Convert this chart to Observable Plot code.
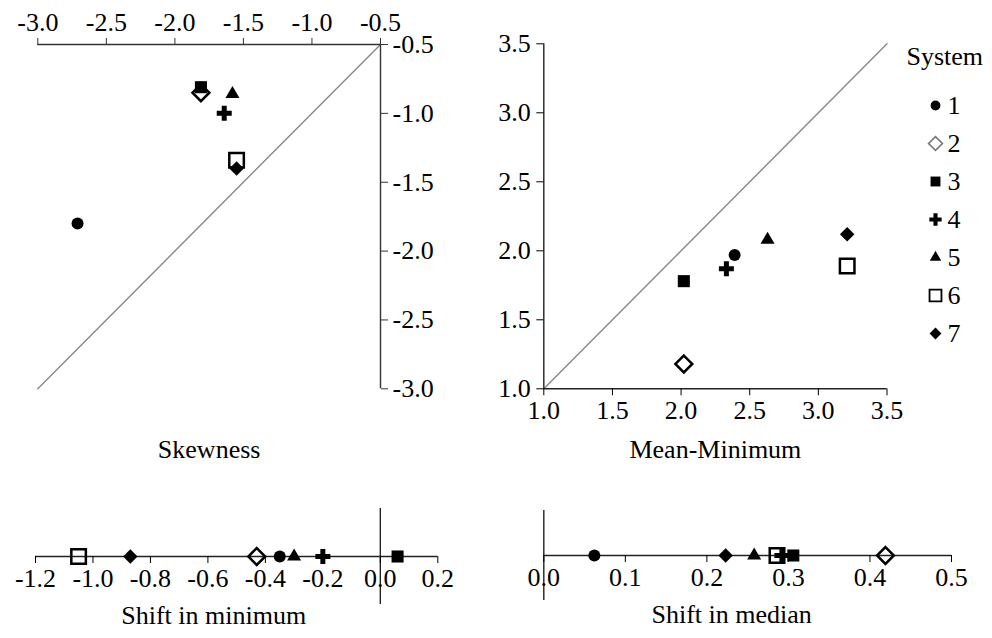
<!DOCTYPE html>
<html>
<head>
<meta charset="utf-8">
<script src="https://cdn.jsdelivr.net/npm/d3@7"></script>
<script src="https://cdn.jsdelivr.net/npm/@observablehq/plot@0.6"></script>
<style>
  html, body { margin: 0; padding: 0; background: #fff; }
  #wrap { position: relative; width: 992px; height: 638px; }
  #wrap svg { position: absolute; overflow: visible; }
  #wrap svg, #wrap svg text { font-family: "Liberation Serif" !important; }
</style>
</head>
<body>
<div id="wrap"></div>
<script>
// ---- data ----
const systems = ["1", "2", "3", "4", "5", "6", "7"];
// Skewness panel (x vs y)
const skewX = [-2.71, -1.81, -1.81, -1.64, -1.58, -1.55, -1.55];
const skewY = [-1.80, -0.85, -0.81, -1.00, -0.86, -1.34, -1.40];
const skewTicks = [-3.0, -2.5, -2.0, -1.5, -1.0, -0.5];
// Mean-Minimum panel
const mmX = [2.39, 2.02, 2.02, 2.33, 2.63, 3.21, 3.21];
const mmY = [1.97, 1.18, 1.78, 1.87, 2.08, 1.89, 2.12];
const mmTicks = [1.0, 1.5, 2.0, 2.5, 3.0, 3.5];
// Shift in minimum
const shiftMin = [-0.35, -0.43, 0.06, -0.20, -0.30, -1.05, -0.87];
const minTicks = [-1.2, -1.0, -0.8, -0.6, -0.4, -0.2, 0.0, 0.2];
// Shift in median
const shiftMed = [0.062, 0.419, 0.306, 0.292, 0.258, 0.286, 0.223];
const medTicks = [0.0, 0.1, 0.2, 0.3, 0.4, 0.5];

// ---- styles ----
const sty = {
  "1": {symbol: "circle",   r: 6.0, fill: "black", stroke: "none"},
  "2": {symbol: "diamond2", r: 7.6, fill: "none",  stroke: "black", strokeWidth: 2.5},
  "3": {symbol: "square",   r: 6.8, fill: "black", stroke: "none"},
  "4": {symbol: "cross",    r: 6.3, fill: "black", stroke: "none"},
  "5": {symbol: "triangle", r: 5.2, fill: "black", stroke: "none"},
  "6": {symbol: "square",   r: 8.2, fill: "none",  stroke: "black", strokeWidth: 2.5},
  "7": {symbol: "diamond2", r: 6.5, fill: "black", stroke: "none"}
};
const legendScale = 0.82;
const fmt = d => d.toFixed(1);
const FONT = {fontFamily: "Liberation Serif", fontSize: "26px"};

function dotsFor(rows) {
  return systems.map(s => {
    const st = sty[s];
    return Plot.dot(rows.filter(d => d.system === s), {
      x: "x", y: "y", symbol: st.symbol, r: st.r,
      fill: st.fill, stroke: st.stroke, strokeWidth: st.strokeWidth || 1
    });
  });
}

const wrap = document.getElementById("wrap");
function place(svg, left, top) {
  svg.style.left = left + "px";
  svg.style.top = top + "px";
  svg.style.background = "transparent";
  wrap.appendChild(svg);
}

// ---- Panel 1: Skewness ----
const skewDomain = [skewTicks[0], skewTicks[skewTicks.length - 1]];
const skewRows = systems.map((s, i) => ({system: s, x: skewX[i], y: skewY[i]}));
const p1 = Plot.plot({
  width: 460, height: 440,
  marginLeft: 37.3, marginRight: 80, marginTop: 44, marginBottom: 51.7,
  style: FONT,
  x: {domain: skewDomain},
  y: {domain: skewDomain},
  marks: [
    Plot.line(skewDomain.map(v => ({x: v, y: v})), {x: "x", y: "y", stroke: "#888", strokeWidth: 1.4}),
    Plot.ruleY([skewDomain[1]], {stroke: "#333", strokeWidth: 1.4}),
    Plot.ruleX([skewDomain[1]], {stroke: "#333", strokeWidth: 1.4}),
    Plot.axisX(skewTicks, {anchor: "top", tickSize: 7, tickPadding: 7, tickFormat: fmt, label: null, stroke: "#333"}),
    Plot.axisY(skewTicks, {anchor: "right", tickSize: 7, tickPadding: 5, tickFormat: fmt, label: null, stroke: "#333"}),
    ...dotsFor(skewRows),
    Plot.text(["Skewness"], {frameAnchor: "bottom", dy: 68.7, fontSize: 26})
  ]
});
place(p1, 0, 0);

// ---- Panel 2: Mean-Minimum ----
const mmDomain = [mmTicks[0], mmTicks[mmTicks.length - 1]];
const mmRows = systems.map((s, i) => ({system: s, x: mmX[i], y: mmY[i]}));
const p2 = Plot.plot({
  width: 460, height: 440,
  marginLeft: 63.3, marginRight: 53.5, marginTop: 43.3, marginBottom: 51.7,
  style: FONT,
  x: {domain: mmDomain},
  y: {domain: mmDomain},
  marks: [
    Plot.line(mmDomain.map(v => ({x: v, y: v})), {x: "x", y: "y", stroke: "#888", strokeWidth: 1.4}),
    Plot.ruleY([mmDomain[0]], {stroke: "#222", strokeWidth: 1.4}),
    Plot.ruleX([mmDomain[0]], {stroke: "#222", strokeWidth: 1.4}),
    Plot.axisX(mmTicks, {anchor: "bottom", tickSize: 7, tickPadding: 5, tickFormat: fmt, label: null}),
    Plot.axisY(mmTicks, {anchor: "left", tickSize: 7, tickPadding: 6, tickFormat: fmt, label: null}),
    ...dotsFor(mmRows),
    Plot.text(["Mean-Minimum"], {frameAnchor: "bottom", dy: 68.7, fontSize: 26})
  ]
});
place(p2, 480, 0);

// ---- Legend ----
const pL = Plot.plot({
  width: 92, height: 380,
  marginLeft: 0, marginRight: 0, marginTop: 86, marginBottom: 28,
  style: FONT,
  x: {domain: [0, 1], axis: null},
  y: {type: "point", domain: systems, axis: null},
  marks: [
    ...systems.map(s => {
      const st = sty[s];
      return Plot.dot([s], {
        y: d => d, frameAnchor: "left", dx: 35,
        symbol: st.symbol, r: st.r * legendScale,
        fill: st.fill,
        stroke: s === "2" ? "#777" : st.stroke,
        strokeWidth: s === "2" ? 1.6 : (st.strokeWidth ? 1.8 : 1)
      });
    }),
    Plot.text(systems, {y: d => d, text: d => d, frameAnchor: "left", dx: 47, textAnchor: "start", fontSize: 26}),
    Plot.text(["System"], {frameAnchor: "top-left", dx: 6, dy: -40, textAnchor: "start", fontSize: 26})
  ]
});
place(pL, 900, 0);

// ---- Panel 3: Shift in minimum ----
const minDomain = [minTicks[0], minTicks[minTicks.length - 1]];
const minRows = systems.map((s, i) => ({system: s, x: shiftMin[i], y: 0}));
const p3 = Plot.plot({
  width: 470, height: 148,
  marginLeft: 35, marginRight: 32.7, marginTop: 18, marginBottom: 82,
  style: FONT,
  x: {domain: minDomain},
  y: {domain: [0, 1], axis: null},
  marks: [
    Plot.ruleY([0], {stroke: "#222", strokeWidth: 1.4}),
    Plot.ruleX([0], {y1: 1, y2: -1, stroke: "#222", strokeWidth: 1.4}),
    Plot.axisX(minTicks, {anchor: "bottom", tickSize: 7, tickPadding: 5, tickFormat: fmt, label: null}),
    ...dotsFor(minRows),
    Plot.text(["Shift in minimum"], {frameAnchor: "bottom", dy: 67, dx: -23, fontSize: 26})
  ]
});
place(p3, 0, 490);

// ---- Panel 4: Shift in median ----
const medDomain = [medTicks[0], medTicks[medTicks.length - 1]];
const medRows = systems.map((s, i) => ({system: s, x: shiftMed[i], y: 0}));
const p4 = Plot.plot({
  width: 500, height: 148,
  marginLeft: 63.3, marginRight: 29, marginTop: 20, marginBottom: 83,
  style: FONT,
  x: {domain: medDomain},
  y: {domain: [0, 1], axis: null},
  marks: [
    Plot.ruleY([0], {stroke: "#222", strokeWidth: 1.4}),
    Plot.ruleX([0], {y1: 1, y2: -1, stroke: "#222", strokeWidth: 1.4}),
    Plot.axisX(medTicks, {anchor: "bottom", tickSize: 7, tickPadding: 5, tickFormat: fmt, label: null}),
    ...dotsFor(medRows),
    Plot.text(["Shift in median"], {frameAnchor: "bottom", dy: 67, dx: -16, fontSize: 26})
  ]
});
place(p4, 480, 490);
</script>
</body>
</html>
